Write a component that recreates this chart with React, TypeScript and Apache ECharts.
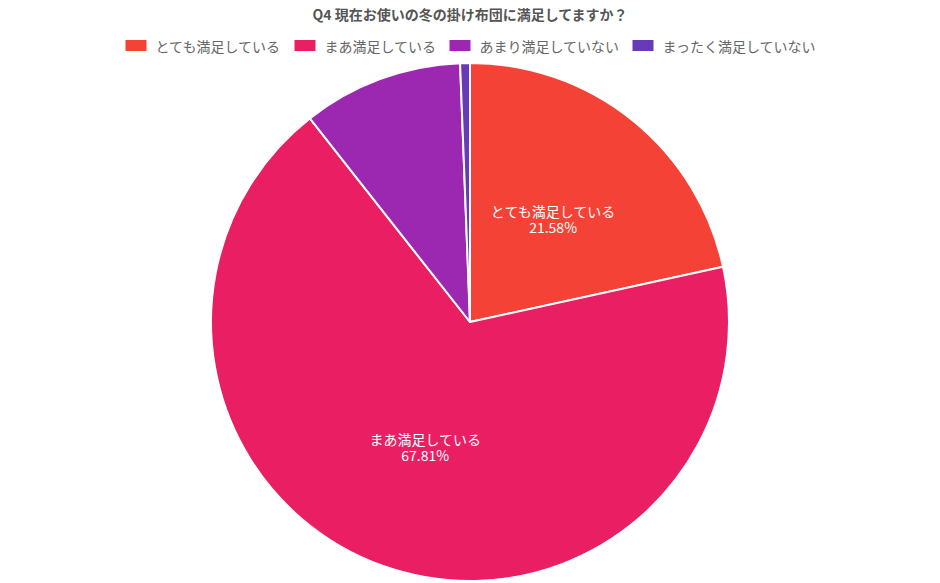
import React, { useEffect, useRef } from 'react';
import * as echarts from 'echarts';

const titleText = 'Q4 現在お使いの冬の掛け布団に満足してますか？';
const categories = ['とても満足している', 'まあ満足している', 'あまり満足していない', 'まったく満足していない'];
const values = [21.58, 67.81, 10.0, 0.61];
const colors = ['#f44336', '#e91e63', '#9c27b0', '#673ab7'];
const showLabel = [true, true, false, false];

const FONT = '"Noto Sans CJK JP", "Noto Sans", sans-serif';

const App: React.FC = () => {
	const chartRef = useRef<HTMLDivElement>(null);

	useEffect(() => {
		if (!chartRef.current) return;
		document.body.style.margin = '0';
		const chart = echarts.init(chartRef.current, undefined, { renderer: 'svg' });

		const option: echarts.EChartsOption = {
			animation: false,
			backgroundColor: '#ffffff',
			textStyle: { fontFamily: FONT },
			title: {
				text: titleText,
				left: 'center',
				top: 2,
				textStyle: {
					color: '#555555',
					fontSize: 14,
					fontWeight: 'bold',
					fontFamily: FONT
				}
			},
			legend: {
				data: categories,
				top: 33,
				left: 'center',
				itemWidth: 23,
				itemHeight: 13,
				itemGap: 11,
				icon: 'rect',
				textStyle: {
					color: '#666666',
					fontSize: 14,
					padding: [0, 0, 0, 3],
					fontFamily: FONT
				}
			},
			series: [
				{
					type: 'pie',
					center: [470, 322],
					radius: 259,
					startAngle: 90,
					clockwise: true,
					data: categories.map((name, i) => ({
						name,
						value: values[i],
						itemStyle: { color: colors[i] },
						label: { show: showLabel[i] }
					})),
					itemStyle: {
						borderColor: '#ffffff',
						borderWidth: 2
					},
					label: {
						position: 'inside',
						color: '#ffffff',
						fontSize: 14,
						lineHeight: 16,
						fontFamily: FONT,
						formatter: (p: any) => `${p.name}\n${p.value.toFixed(2)}%`
					},
					labelLine: { show: false },
					emphasis: { disabled: true }
				}
			]
		};

		chart.setOption(option);

		return () => {
			chart.dispose();
		};
	}, []);

	return <div ref={chartRef} style={{ width: '940px', height: '583px' }} />;
};

export default App;
